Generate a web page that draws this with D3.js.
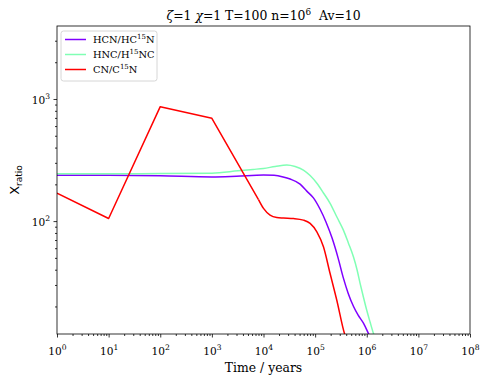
<!DOCTYPE html>
<html>
<head>
<meta charset="utf-8">
<script src="https://cdn.jsdelivr.net/npm/d3@7"></script>
<style>
  html, body { margin: 0; padding: 0; background: #fff; }
  svg { display: block; }
</style>
</head>
<body>
<svg id="chart" width="490" height="385"></svg>
<script>
// ---------------- data ----------------
const hcnTime  = [1, 10, 100, 1000, 3000, 1e4, 1.6e4, 2.4e4, 3.28e4, 5.12e4, 6.9e4, 9.27e4, 1.25e5, 1.63e5, 2.13e5, 2.79e5, 3.53e5, 4.36e5, 5.52e5, 6.81e5, 8.63e5, 1.08e6, 1.32e6];
const hcnRatio = [237, 237, 235, 230, 233, 238, 237, 230, 221, 201, 176, 155, 125, 98, 72.6, 49.8, 34.1, 25.7, 20.1, 17.0, 14.6, 12.0, 10];

const hncTime  = [1, 10, 100, 1000, 3200, 6300, 1e4, 1.68e4, 2.83e4, 4.1e4, 5.93e4, 8e4, 1.08e5, 1.45e5, 1.95e5, 2.64e5, 3.53e5, 4.42e5, 5.52e5, 6.52e5, 7.45e5, 8.63e5, 1.0e6, 1.16e6, 1.35e6, 1.58e6];
const hncRatio = [244, 244, 245, 247, 258, 265, 270, 280, 288, 280, 262, 236, 204, 170, 140, 108, 84.3, 66, 51, 39.6, 30.8, 23.8, 18.6, 14.9, 12.0, 10];

const cnTimeEarly  = [1, 10, 100, 1000, 8000];
const cnRatioEarly = [169, 105, 865, 695, 150];
const cnTimeLate   = [8000, 1e4, 1.34e4, 1.81e4, 2.43e4, 3.8e4, 5.93e4, 8e4, 1.08e5, 1.45e5, 1.95e5, 2.63e5, 3.7e5, 4.3e5];
const cnRatioLate  = [150, 127, 112, 107, 106, 105, 101.9, 95.8, 81.7, 61.6, 37.2, 22.5, 12.0, 10];

const seriesNames  = ["HCN/HC", "HNC/H", "CN/C"];
const seriesSup    = ["15", "15", "15"];
const seriesTail   = ["N", "NC", "N"];
const seriesColors = ["#8000ff", "#80ffb4", "#ff0000"];

const xTickExps = [0, 1, 2, 3, 4, 5, 6, 7, 8];
const yTickExps = [2, 3];
const xDomain = [1, 1e8];
const yDomain = [11.9, 3960];

// ---------------- layout ----------------
const L = 57, R = 470, T = 26, B = 334;
const svg = d3.select("#chart");
const serif = "'DejaVu Serif', serif";
const sans = "'DejaVu Sans', sans-serif";

const x = d3.scaleLog().domain(xDomain).range([L, R]);
const y = d3.scaleLog().domain(yDomain).range([B, T]);

svg.append("defs").append("clipPath").attr("id", "clip")
  .append("rect").attr("x", L).attr("y", T).attr("width", R - L).attr("height", B - T);

function minorVals(domain) {
  const out = [];
  const lo = Math.floor(Math.log10(domain[0])), hi = Math.ceil(Math.log10(domain[1]));
  for (let e = lo; e < hi; e++) for (let m = 2; m <= 9; m++) {
    const v = m * Math.pow(10, e);
    if (v >= domain[0] && v <= domain[1]) out.push(v);
  }
  return out;
}

const xMajor = xTickExps.map(e => Math.pow(10, e));
const yMajor = yTickExps.map(e => Math.pow(10, e));

const gx = svg.append("g").attr("transform", `translate(0,${B})`);
gx.call(d3.axisBottom(x).tickValues(minorVals(xDomain)).tickSize(2).tickFormat(""));
const gxM = svg.append("g").attr("transform", `translate(0,${B})`);
gxM.call(d3.axisBottom(x).tickValues(xMajor).tickSize(3.5).tickFormat(""));

const gy = svg.append("g").attr("transform", `translate(${L},0)`);
gy.call(d3.axisLeft(y).tickValues(minorVals(yDomain)).tickSize(2).tickFormat(""));
const gyM = svg.append("g").attr("transform", `translate(${L},0)`);
gyM.call(d3.axisLeft(y).tickValues(yMajor).tickSize(3.5).tickFormat(""));

svg.selectAll(".domain").remove();
svg.selectAll(".tick line").attr("stroke", "#000").attr("stroke-width", 0.8);

gxM.selectAll(".tick").each(function(d) {
  const t = d3.select(this).append("text")
    .attr("y", 21).attr("text-anchor", "middle")
    .attr("font-family", serif).attr("font-size", 10.6).attr("fill", "#000");
  t.append("tspan").text("10");
  t.append("tspan").attr("dy", -5).attr("font-size", 7.6).text(Math.round(Math.log10(d)));
});
gyM.selectAll(".tick").each(function(d) {
  const t = d3.select(this).append("text")
    .attr("x", -7).attr("y", 4.5).attr("text-anchor", "end")
    .attr("font-family", serif).attr("font-size", 10.6).attr("fill", "#000");
  t.append("tspan").text("10");
  t.append("tspan").attr("dy", -5).attr("font-size", 7.6).text(Math.round(Math.log10(d)));
});

const plot = svg.append("g").attr("clip-path", "url(#clip)");
function drawLine(times, vals, color, curve) {
  const pts = times.map((t, i) => [t, vals[i]]);
  plot.append("path").datum(pts)
    .attr("fill", "none").attr("stroke", color).attr("stroke-width", 1.5)
    .attr("stroke-linejoin", "round")
    .attr("d", d3.line().x(d => x(d[0])).y(d => y(d[1])).curve(curve));
}
drawLine(hcnTime, hcnRatio, seriesColors[0], d3.curveMonotoneX);
drawLine(hncTime, hncRatio, seriesColors[1], d3.curveMonotoneX);
drawLine(cnTimeEarly, cnRatioEarly, seriesColors[2], d3.curveLinear);
drawLine(cnTimeLate, cnRatioLate, seriesColors[2], d3.curveMonotoneX);

svg.append("rect").attr("x", L).attr("y", T).attr("width", R - L).attr("height", B - T)
  .attr("fill", "none").attr("stroke", "#000").attr("stroke-width", 0.8);

const title = svg.append("text").attr("x", (L + R) / 2).attr("y", 20)
  .attr("text-anchor", "middle").attr("font-family", serif).attr("font-size", 12.4).attr("fill", "#000");
title.append("tspan").attr("font-style", "italic").text("ζ");
title.append("tspan").text("=1 ");
title.append("tspan").attr("font-style", "italic").text("χ");
title.append("tspan").text("=1 T=100 n=10");
title.append("tspan").attr("dy", -5).attr("font-size", 8.8).text("6");
title.append("tspan").attr("dy", 5).text("\u00a0\u00a0Av=10");

svg.append("text").attr("x", (L + R) / 2).attr("y", 372).attr("text-anchor", "middle")
  .attr("font-family", serif).attr("font-size", 12.4).attr("fill", "#000").text("Time / years");

const yl = svg.append("text").attr("transform", `translate(19,${(T + B) / 2}) rotate(-90)`)
  .attr("text-anchor", "middle").attr("font-family", sans).attr("font-size", 13).attr("fill", "#000");
yl.append("tspan").text("X");
yl.append("tspan").attr("dy", 3).attr("font-size", 9).text("ratio");

const lg = svg.append("g");
lg.append("rect").attr("x", 61).attr("y", 31).attr("width", 96).attr("height", 50).attr("rx", 2.5)
  .attr("fill", "#fff").attr("fill-opacity", 0.8).attr("stroke", "#cccccc").attr("stroke-width", 0.8);
seriesNames.forEach((name, i) => {
  const yy = 39.5 + i * 15;
  lg.append("line").attr("x1", 65).attr("x2", 86).attr("y1", yy).attr("y2", yy)
    .attr("stroke", seriesColors[i]).attr("stroke-width", 1.5);
  const t = lg.append("text").attr("x", 93).attr("y", yy + 3.6)
    .attr("font-family", serif).attr("font-size", 9.8).attr("fill", "#000");
  t.append("tspan").text(name);
  t.append("tspan").attr("dy", -4).attr("font-size", 7).text(seriesSup[i]);
  t.append("tspan").attr("dy", 4).text(seriesTail[i]);
});
</script>
</body>
</html>
